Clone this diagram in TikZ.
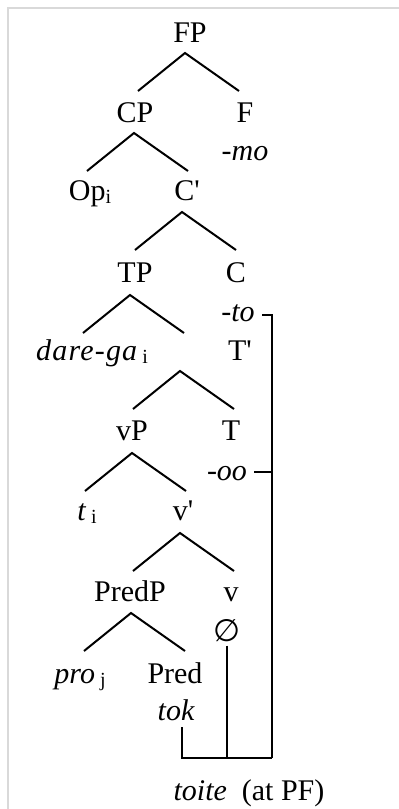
\documentclass[tikz,border=0pt]{standalone}
\usepackage{fontspec}
\setmainfont{Liberation Serif}
\newfontfamily\symfont{DejaVu Sans}
\usetikzlibrary{positioning}
\definecolor{FrameGray}{HTML}{D9D9D9}
\newcommand{\idx}[1]{\raisebox{-1.5pt}{\fontsize{10}{10}\selectfont #1}}
\newcommand{\prm}{\textquotesingle}

\begin{document}
\begin{tikzpicture}[
  x=0.5pt, y=0.5pt,
  lab/.style={anchor=base, inner sep=0pt, font=\fontsize{15}{18}\selectfont},
  mor/.style={lab, font=\fontsize{15}{18}\selectfont\itshape},
  link/.style={line width=1pt},
  wedge/.pic={\draw[line width=1pt] (-47,-38) -- (0,0) -- (54,-38);}
]
\useasboundingbox (0,0) rectangle (399,-809);
\draw[FrameGray, line width=1.2pt] (8,-809) -- (8,-8) -- (399,-8);

% labels of the tree
\node[lab] (FP) at (190,-42) {FP};
\node[lab] (CP) at (135,-122) {CP};
\node[lab] (F) at (245,-122) {F};
\node[mor] (mo) at (245,-160) {-mo};
\node[lab] (Op) at (90,-200) {Op\idx{i}};
\node[lab] (Cbar) at (187,-200) {C\prm};
\node[lab] (TP) at (135,-282) {TP};
\node[lab] (C) at (236,-282) {C};
\node[mor] (to) at (238,-321) {-to};
\node[lab] (darega) at (92,-360) {{\itshape\addfontfeature{LetterSpace=4}dare-ga}\,\idx{i}};
\node[lab] (Tbar) at (240,-360) {T\prm};
\node[lab] (vP) at (132,-440) {vP};
\node[lab] (T) at (231,-440) {T};
\node[mor] (oo) at (227,-480) {-oo};
\node[lab] (ti) at (87,-520) {\textit{t}\,\idx{i}};
\node[lab] (vbar) at (183,-520) {v\prm};
\node[lab] (PredP) at (130,-601) {PredP};
\node[lab] (v) at (231,-601) {v};
\node[lab, anchor=center] (null) at (227,-631) {\symfont\fontsize{15.5}{17}\selectfont ∅};
\node[lab] (proj) at (80,-683) {\textit{pro}\,\idx{j}};
\node[lab] (Pred) at (175,-683) {Pred};
\node[mor] (tok) at (176,-720) {tok};
\node[lab] (toite) at (249,-800) {\textit{toite}~~(at PF)};

% branches
\pic at ([shift={(-5,-11)}]FP.base) {wedge};
\pic at ([shift={(-1,-11)}]CP.base) {wedge};
\pic at ([shift={(-5,-12)}]Cbar.base) {wedge};
\pic at ([shift={(-5,-13)}]TP.base) {wedge};
\pic at ([shift={(-60,-11)}]Tbar.base) {wedge};
\pic at ([shift={(0,-13)}]vP.base) {wedge};
\pic at ([shift={(-3,-13)}]vbar.base) {wedge};
\pic at ([shift={(1,-12)}]PredP.base) {wedge};

% joining the pieces at PF
\coordinate (bar) at (272,-758);
\coordinate (toend) at ([shift={(7,6)}]to.base east);
\coordinate (ooend) at ([shift={(7,8)}]oo.base east);
\coordinate (nullend) at ([yshift=-1.5pt]null.south);
\coordinate (tokend) at ([shift={(6,-7)}]tok.base);
\draw[link] (toend) -| (bar);
\draw[link] (ooend) -- (ooend -| bar);
\draw[link] (nullend) -- (nullend |- bar);
\draw[link] (tokend) -- (tokend |- bar) -- (bar);

\end{tikzpicture}
\end{document}
